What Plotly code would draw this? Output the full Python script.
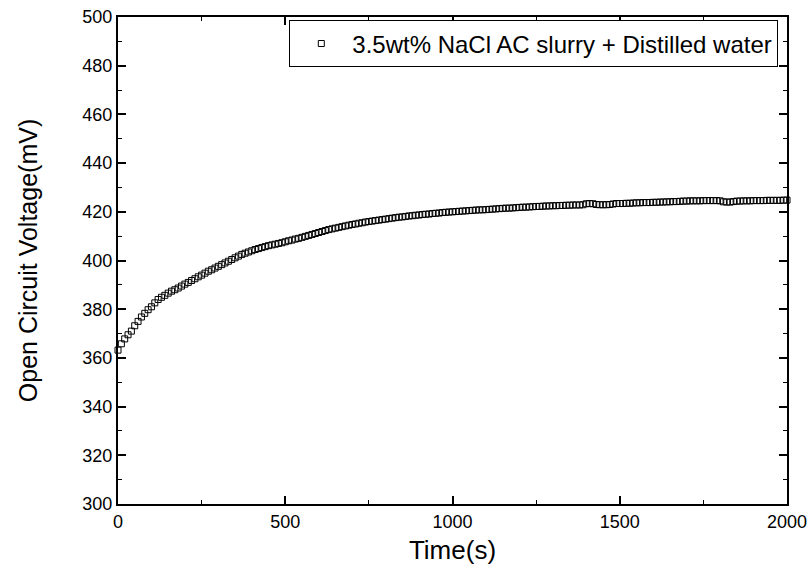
import plotly.graph_objects as go

time_s = list(range(0, 2001, 10))
ocv_mv = [
    363.2, 365.8, 367.8, 369.5, 371.0, 373.2, 375.0, 376.8, 378.3, 379.8,
    381.0, 382.6, 384.0, 384.9, 385.7, 386.6, 387.4, 388.0, 388.7, 389.5,
    390.3, 391.0, 391.8, 392.5, 393.3, 394.0, 394.8, 395.6, 396.2, 396.9,
    397.6, 398.3, 399.0, 399.7, 400.4, 401.1, 401.8, 402.5, 403.0, 403.5,
    404.0, 404.5, 404.9, 405.3, 405.7, 406.1, 406.4, 406.7, 407.0, 407.3,
    407.7, 408.1, 408.4, 408.8, 409.1, 409.5, 409.9, 410.3, 410.7, 411.1,
    411.5, 411.9, 412.3, 412.7, 413.0, 413.3, 413.6, 413.9, 414.2, 414.5,
    414.8, 415.0, 415.3, 415.5, 415.8, 416.0, 416.2, 416.4, 416.6, 416.8,
    417.0, 417.2, 417.4, 417.6, 417.8, 417.9, 418.1, 418.3, 418.4, 418.6,
    418.7, 418.9, 419.0, 419.1, 419.3, 419.4, 419.5, 419.7, 419.8, 419.9,
    420.0, 420.1, 420.2, 420.3, 420.4, 420.5, 420.6, 420.7, 420.8, 420.8,
    420.9, 421.0, 421.1, 421.2, 421.3, 421.4, 421.5, 421.5, 421.6, 421.7,
    421.8, 421.9, 421.9, 422.0, 422.1, 422.2, 422.2, 422.3, 422.4, 422.4,
    422.5, 422.5, 422.6, 422.6, 422.7, 422.7, 422.8, 422.8, 422.8, 422.9,
    423.3, 423.4, 423.3, 423.0, 422.9, 422.9, 422.9, 423.0, 423.2, 423.4,
    423.4, 423.4, 423.5, 423.5, 423.6, 423.7, 423.7, 423.8, 423.8, 423.8,
    423.9, 423.9, 424.0, 424.0, 424.1, 424.1, 424.2, 424.2, 424.3, 424.4,
    424.4, 424.5, 424.5, 424.5, 424.5, 424.6, 424.6, 424.6, 424.6, 424.6,
    424.5, 424.1, 424.0, 424.0, 424.2, 424.4, 424.4, 424.5, 424.5, 424.5,
    424.6, 424.6, 424.6, 424.6, 424.7, 424.7, 424.7, 424.7, 424.7, 424.8,
    424.8,
]

series_name = "3.5wt% NaCl AC slurry + Distilled water"

fig = go.Figure()
fig.add_trace(go.Scatter(
    x=time_s, y=ocv_mv, mode="markers", name=series_name,
    marker=dict(symbol="square-open", size=6, color="black", line=dict(width=1, color="black")),
    showlegend=True, cliponaxis=False,
))

FONT = "Liberation Sans, Arial, sans-serif"
axis_common = dict(
    showline=True, linewidth=2, linecolor="black", mirror="allticks",
    ticks="inside", ticklen=8, tickwidth=1.5, tickcolor="black",
    showgrid=False, zeroline=False, automargin=False,
    tickfont=dict(family=FONT, size=18, color="black"),
)

fig.update_xaxes(
    range=[0, 2000], tick0=0, dtick=500,
    minor=dict(ticks="inside", ticklen=4, tickwidth=1, tickcolor="black", dtick=250),
    title=dict(text="Time(s)", font=dict(family=FONT, size=26, color="black"), standoff=10),
    **axis_common,
)
fig.update_yaxes(
    range=[300, 500], tick0=300, dtick=20,
    minor=dict(ticks="inside", ticklen=4, tickwidth=1, tickcolor="black", dtick=10),
    title=dict(text="Open Circuit Voltage(mV)", font=dict(family=FONT, size=25, color="black"), standoff=38),
    **axis_common,
)

fig.update_layout(
    width=811, height=578,
    margin=dict(l=118, r=24, t=17, b=74),
    paper_bgcolor="white", plot_bgcolor="white",
    font=dict(family=FONT, color="black"),
    legend=dict(
        x=0.987, y=0.993, xanchor="right", yanchor="top",
        bordercolor="black", borderwidth=1, bgcolor="white",
        itemwidth=52,
        font=dict(family=FONT, size=24, color="black"),
    ),
)

fig.write_html("out.html")
